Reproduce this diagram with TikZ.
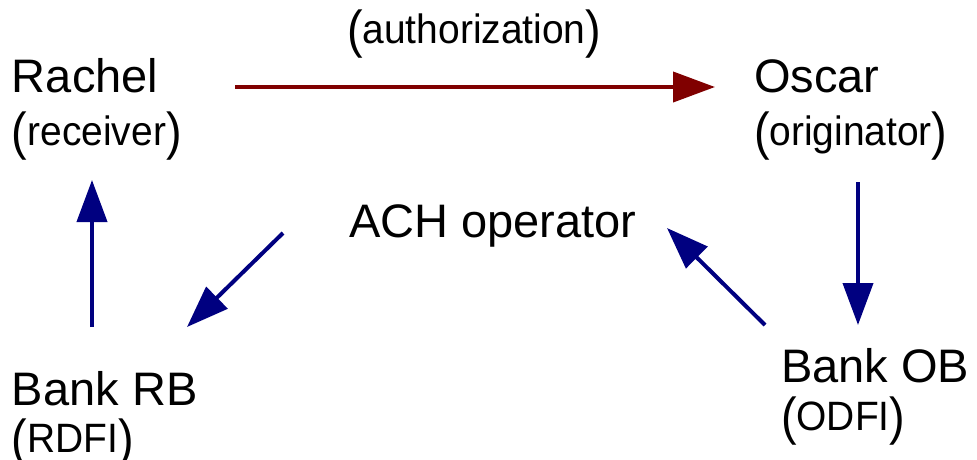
\documentclass[tikz,border=0pt]{standalone}
\usepackage{fontspec}
\usepackage{graphicx}
\setmainfont{Liberation Sans}
\usetikzlibrary{arrows.meta}
\definecolor{authred}{HTML}{800000}
\definecolor{flowblue}{HTML}{000080}
\newcommand\subtxt[1]{{\fontsize{52}{52}\selectfont\raisebox{-4pt}{\scalebox{0.9}[1]{(}}}\scalebox{0.95}[1]{\fontsize{41}{41}\selectfont #1}{\fontsize{52}{52}\selectfont\raisebox{-4pt}{\scalebox{0.9}[1]{)}}}}
\tikzset{
  lbl/.style={anchor=base west, inner sep=0pt, outer sep=0pt, font=\fontsize{47}{47}\selectfont},
  sublbl/.style={anchor=base west, inner sep=0pt, outer sep=0pt},
  redarrow/.style={draw=authred, line width=4pt, -{Triangle[length=42pt,width=30pt]}, authred},
  bluearrow/.style={draw=flowblue, line width=4pt, -{Triangle[length=42pt,width=30pt]}, flowblue}
}
\begin{document}
\begin{tikzpicture}[x=1pt,y=-1pt]
\useasboundingbox (0,0) rectangle (977,459);
% labels
\node[lbl] (rachel) at (12,92) {Rachel};
\node[sublbl] (receiver) at (12,145) {\subtxt{receiver}};
\node[lbl] (oscar) at (754,92) {Oscar};
\node[sublbl] (originator) at (754,145) {\subtxt{originator}};
\node[sublbl] (auth) at (347,43) {\subtxt{authorization}};
\node[lbl] (ach) at (349,237) {ACH operator};
\node[lbl] (bankrb) at (12,405) {Bank RB};
\node[sublbl] (rdfi) at (12,452) {\subtxt{RDFI}};
\node[lbl] (bankob) at (781,382) {Bank OB};
\node[sublbl] (odfi) at (781,430) {\subtxt{ODFI}};
% connector end points
\coordinate (authS) at (235,87);
\coordinate (authE) at (715,87);
\coordinate (upS) at (92,327);
\coordinate (upE) at (92,180);
\coordinate (downS) at (858,182);
\coordinate (downE) at (858,325);
\coordinate (achOutS) at (283,233);
\coordinate (achOutE) at (187,327);
\coordinate (achInS) at (765,325);
\coordinate (achInE) at (667,228);
% connectors
\draw[redarrow] (authS) -- (authE);
\draw[bluearrow] (upS) -- (upE);
\draw[bluearrow] (downS) -- (downE);
\draw[bluearrow] (achOutS) -- (achOutE);
\draw[bluearrow] (achInS) -- (achInE);
\end{tikzpicture}
\end{document}
